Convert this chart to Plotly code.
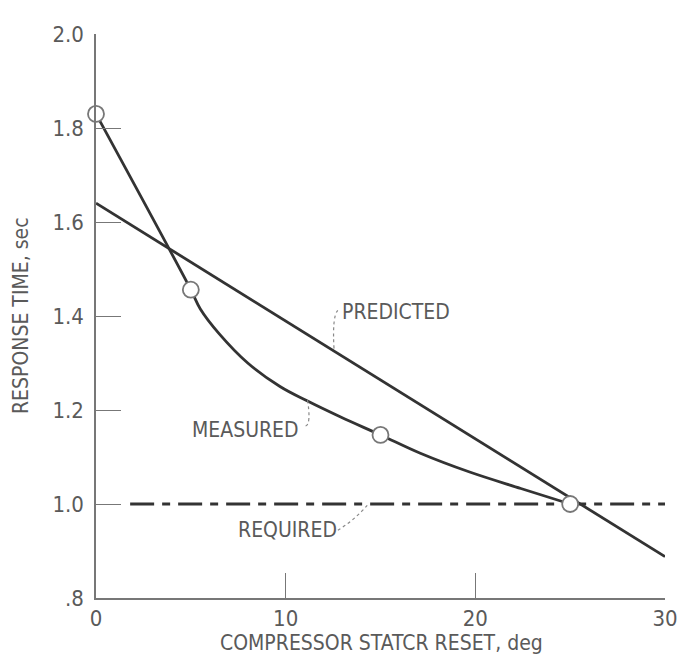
import plotly.graph_objects as go

# ---- data ----
meas_pts_x = [0, 5, 15, 25]
meas_pts_y = [1.83, 1.456, 1.147, 1.0]

meas_curve_x = [0, 5, 5.5, 6.5, 8, 9.7, 11.1, 12.9, 15, 17.1, 19.7, 22.4, 25]
meas_curve_y = [1.83, 1.456, 1.415, 1.362, 1.300, 1.250, 1.220, 1.185, 1.147, 1.108, 1.068, 1.033, 1.0]

pred_x = [0, 30]
pred_y = [1.64, 0.888]

req_x = [1.8, 30]
req_y = [1.0, 1.0]

x_ticks = [0, 10, 20, 30]
x_ticktext = ["0", "10", "20", "30"]
y_ticks = [0.8, 1.0, 1.2, 1.4, 1.6, 1.8, 2.0]
y_ticktext = [".8", "1.0", "1.2", "1.4", "1.6", "1.8", "2.0"]

FONT = "Liberation Sans Narrow, DejaVu Sans Condensed, Arial Narrow, sans-serif"
TXT = "#5a5a5a"
LINE = "#333333"
AX = "#777777"

fig = go.Figure()

fig.add_trace(go.Scatter(x=req_x, y=req_y, mode="lines",
                         line=dict(color=LINE, width=2.8, dash="24px,8px,8px,8px"),
                         hoverinfo="skip"))
fig.add_trace(go.Scatter(x=pred_x, y=pred_y, mode="lines",
                         line=dict(color=LINE, width=2.8), hoverinfo="skip"))
fig.add_trace(go.Scatter(x=meas_curve_x, y=meas_curve_y, mode="lines",
                         line=dict(color=LINE, width=2.8, shape="spline", smoothing=1.0),
                         hoverinfo="skip"))
fig.add_trace(go.Scatter(x=meas_pts_x, y=meas_pts_y, mode="markers",
                         marker=dict(symbol="circle", size=16, color="white",
                                     line=dict(color="#777777", width=1.8)),
                         cliponaxis=False))

# leader lines for labels
leader = dict(color="#888888", width=1.2, dash="3px,3px")
fig.add_shape(type="path", xref="x", yref="y",
              path="M 12.75,1.412 Q 12.45,1.40 12.55,1.33", line=leader)
fig.add_shape(type="path", xref="x", yref="y",
              path="M 11.05,1.166 Q 11.35,1.17 11.15,1.222", line=leader)
fig.add_shape(type="path", xref="x", yref="y",
              path="M 12.75,0.944 Q 13.6,0.965 14.3,0.997", line=leader)

annots = [
    dict(x=15.8, y=1.409, text="PREDICTED"),
    dict(x=7.88, y=1.158, text="MEASURED"),
    dict(x=10.1, y=0.945, text="REQUIRED"),
]
for a in annots:
    fig.add_annotation(x=a["x"], y=a["y"], xref="x", yref="y", text=a["text"],
                       showarrow=False, font=dict(family=FONT, size=21, color=TXT))

fig.add_annotation(x=-0.1318, y=0.50, xref="paper", yref="paper",
                   xanchor="center", yanchor="middle",
                   text="RESPONSE TIME, sec", textangle=-90, showarrow=False,
                   font=dict(family=FONT, size=21, color=TXT))
fig.add_annotation(x=0.501, y=-0.0798, xref="paper", yref="paper",
                   xanchor="center", yanchor="middle",
                   text="COMPRESSOR STATCR RESET, deg", showarrow=False,
                   font=dict(family=FONT, size=21, color=TXT))

fig.update_layout(
    width=678, height=661,
    margin=dict(l=96, r=13, t=34, b=63),
    paper_bgcolor="white", plot_bgcolor="white",
    showlegend=False,
    font=dict(family=FONT, size=22, color=TXT),
)
fig.update_xaxes(range=[0, 30], showgrid=False, zeroline=False, automargin=False,
                 showline=True, linecolor=AX, linewidth=1.5,
                 ticks="inside", ticklen=25, tickwidth=1.4, tickcolor=AX,
                 tickvals=x_ticks, ticktext=x_ticktext, ticklabelstandoff=0,
                 tickfont=dict(family=FONT, size=22, color=TXT))
fig.update_yaxes(range=[0.8, 2.0], showgrid=False, zeroline=False, automargin=False,
                 showline=True, linecolor=AX, linewidth=1.5,
                 ticks="inside", ticklen=25, tickwidth=1.4, tickcolor=AX,
                 tickvals=y_ticks, ticktext=y_ticktext, ticklabelstandoff=6,
                 tickfont=dict(family=FONT, size=22, color=TXT))

fig.write_html("out.html", config={"displayModeBar": False},
               post_script="document.body.style.margin='0';document.body.style.overflow='hidden';")
